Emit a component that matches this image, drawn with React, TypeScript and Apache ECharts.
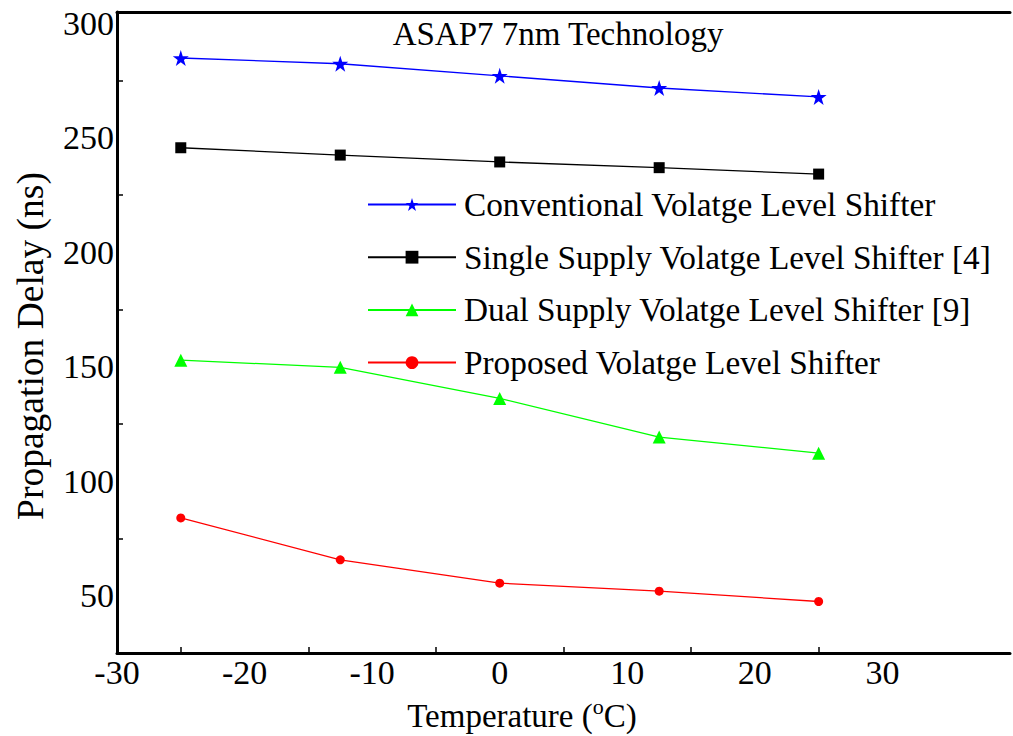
import React, { useEffect, useRef } from "react";
import * as echarts from "echarts";

const temps = [-25, -12.5, 0, 12.5, 25];
const conventional = [284.9, 282.4, 277.1, 271.8, 267.9];
const singleSupply = [245.7, 242.5, 239.5, 237.0, 234.2];
const dualSupply = [152.9, 149.8, 136.2, 119.3, 112.3];
const proposed = [84.0, 65.7, 55.5, 52.0, 47.5];

const seriesNames = [
  "Conventional Volatge Level Shifter",
  "Single Supply Volatge Level Shifter [4]",
  "Dual Supply Volatge Level Shifter [9]",
  "Proposed Volatge Level Shifter",
];
const titleText = "ASAP7 7nm Technology";
const yTitle = "Propagation Delay (ns)";
const yLabelValues = [50, 100, 150, 200, 250, 300];
const yTickValues = [75, 125, 175, 225, 275];
const xTickValues = [-25, -15, -5, 5, 15, 25];

const FONT = "Liberation Serif";

export default function App() {
  const ref = useRef<HTMLDivElement>(null);
  useEffect(() => {
    if (!ref.current) return;
    const chart = echarts.init(ref.current, undefined, { renderer: "svg" });
    const pair = (ys: number[]) => temps.map((t, i) => [t, ys[i]]);
    const mk = (name: string, ys: number[], color: string, symbol: string, size: number) => ({
      name,
      type: "line",
      data: pair(ys),
      symbol,
      symbolSize: size,
      lineStyle: { color, width: 1.3 },
      itemStyle: { color },
      showSymbol: true,
    });
    chart.setOption({
      animation: false,
      backgroundColor: "#ffffff",
      textStyle: { fontFamily: FONT },
      grid: { left: 117, top: 12, right: 0, bottom: 83, containLabel: false },
      xAxis: [
        {
          type: "value",
          min: -30,
          max: 40,
          interval: 10,
          position: "bottom",
          axisLine: { show: true, onZero: false, lineStyle: { color: "#000", width: 3 } },
          axisTick: {
            show: true,
            inside: true,
            length: 6,
            customValues: xTickValues,
            lineStyle: { color: "#000", width: 1.5 },
          },
          axisLabel: {
            color: "#000",
            fontSize: 34,
            fontFamily: FONT,
            margin: 2,
            formatter: (v: number) => (v >= 40 ? "" : String(v)),
          },
          splitLine: { show: false },
        },
        {
          type: "value",
          min: -30,
          max: 40,
          position: "top",
          axisLine: { show: true, onZero: false, lineStyle: { color: "#000", width: 3 } },
          axisTick: { show: false },
          axisLabel: { show: false },
          splitLine: { show: false },
        },
      ],
      yAxis: {
        type: "value",
        min: 25,
        max: 305,
        position: "left",
        axisLine: { show: true, onZero: false, lineStyle: { color: "#000", width: 3 } },
        axisTick: {
          show: true,
          inside: true,
          length: 6,
          customValues: yTickValues,
          lineStyle: { color: "#000", width: 1.5 },
        },
        axisLabel: {
          color: "#000",
          fontSize: 34,
          fontFamily: FONT,
          margin: 3,
          customValues: yLabelValues,
        },
        splitLine: { show: false },
      },
      legend: {
        left: 367,
        top: 188,
        padding: 0,
        orient: "vertical",
        itemWidth: 88,
        itemHeight: 16,
        itemGap: 19.7,
        data: seriesNames,
        textStyle: {
          fontSize: 33.3,
          fontFamily: FONT,
          color: "#000",
          lineHeight: 32,
          padding: [0, 0, 0, 3],
        },
      },
      graphic: [
        {
          type: "text",
          x: 558,
          y: 34,
          style: {
            text: titleText,
            font: `33px ${FONT}`,
            fill: "#000",
            align: "center",
            verticalAlign: "middle",
          },
        },
        {
          type: "text",
          x: 30,
          y: 346,
          rotation: Math.PI / 2,
          style: {
            text: yTitle,
            font: `37.5px ${FONT}`,
            fill: "#000",
            align: "center",
            verticalAlign: "middle",
          },
        },
        {
          type: "text",
          x: 522,
          y: 716,
          style: {
            text: "Temperature ({sup|o}C)",
            font: `33px ${FONT}`,
            fill: "#000",
            align: "center",
            verticalAlign: "middle",
            rich: {
              sup: {
                font: `22px ${FONT}`,
                fill: "#000",
                verticalAlign: "top",
                lineHeight: 42,
              },
            },
          },
        },
      ],
      series: [
        mk(seriesNames[0], conventional, "#0000ff", "path://M50,0 L61.8,35.4 L99,35.4 L69,57.3 L80.4,92.7 L50,70.8 L19.6,92.7 L31,57.3 L1,35.4 L38.2,35.4 Z", 16),
        mk(seriesNames[1], singleSupply, "#000000", "rect", 11),
        mk(seriesNames[2], dualSupply, "#00ff00", "triangle", 13),
        mk(seriesNames[3], proposed, "#ff0000", "circle", 9),
      ],
    });
    return () => chart.dispose();
  }, []);
  return (
    <div
      ref={ref}
      style={{ position: "fixed", left: 0, top: 0, width: 1013, height: 736 }}
    />
  );
}
